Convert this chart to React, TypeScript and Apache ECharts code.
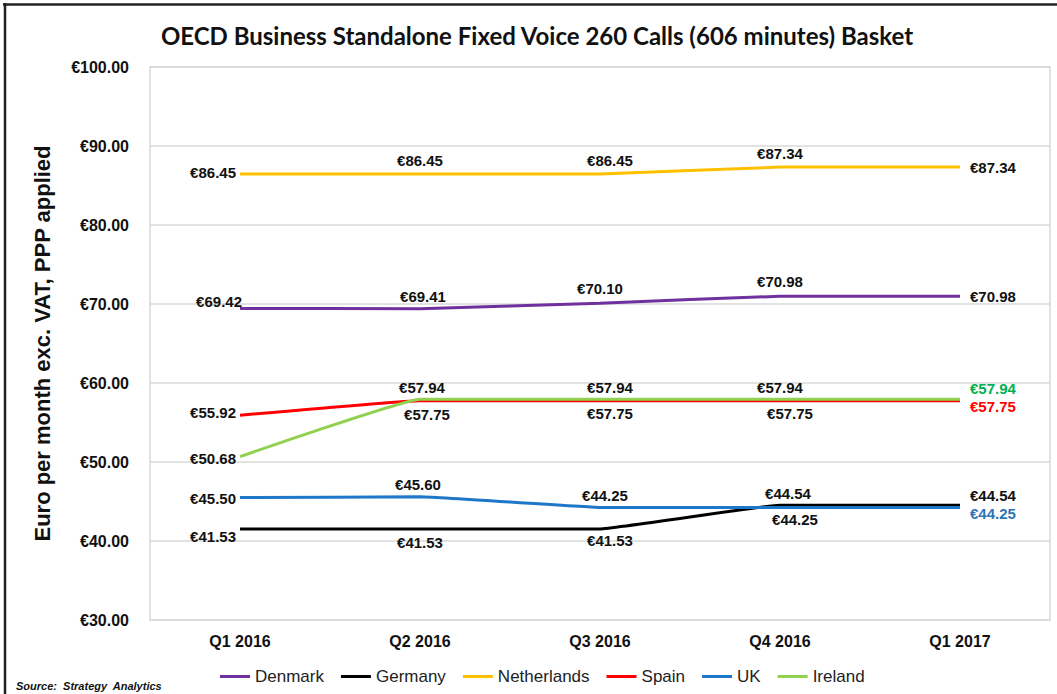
import React, { useEffect, useRef } from "react";
import * as echarts from "echarts";

const categories = ["Q1 2016", "Q2 2016", "Q3 2016", "Q4 2016", "Q1 2017"];
const seriesNames = ["Denmark", "Germany", "Netherlands", "Spain", "UK", "Ireland"];
const denmark = [69.42, 69.41, 70.1, 70.98, 70.98];
const germany = [41.53, 41.53, 41.53, 44.54, 44.54];
const netherlands = [86.45, 86.45, 86.45, 87.34, 87.34];
const spain = [55.92, 57.75, 57.75, 57.75, 57.75];
const uk = [45.5, 45.6, 44.25, 44.25, 44.25];
const ireland = [50.68, 57.94, 57.94, 57.94, 57.94];
const yTicks = { min: 30, max: 100, interval: 10 };

const colors = ["#7030A0", "#000000", "#FFC000", "#FF0000", "#1F77C9", "#92D050"];
const lastLabelColors = ["#111111", "#111111", "#111111", "#FF0000", "#2E75B6", "#00B050"];

// label placement per series per point: [position, offsetX, offsetY]
type LP = [string, number, number];
const labelPlacement: LP[][] = [
  [["left", 6, -7], ["top", 3, -1], ["top", 0, -3], ["top", 0, -3], ["right", 6, 0]],
  [["left", 0, 8], ["bottom", 0, 2], ["bottom", 10, 0], ["top", 8, 0], ["right", 6, -10]],
  [["left", 0, -2], ["top", 0, -2], ["top", 10, -2], ["top", 0, -2], ["right", 6, 0]],
  [["left", 0, -3], ["bottom", 7, 2], ["bottom", 10, 1], ["bottom", 10, 1], ["right", 6, 6]],
  [["left", 0, 1], ["top", -2, -1], ["top", 5, 0], ["bottom", 15, 1], ["right", 6, 6]],
  [["left", 0, 2], ["top", 2, 0], ["top", 10, 0], ["top", 0, 0], ["right", 6, -11]],
];

const allValues = [denmark, germany, netherlands, spain, uk, ireland];

export default function App() {
  const ref = useRef<HTMLDivElement>(null);
  useEffect(() => {
    if (!ref.current) return;
    const chart = echarts.init(ref.current, null, { renderer: "svg" });
    const series = seriesNames.map((name, si) => ({
      name,
      type: "line",
      smooth: 0.08,
      symbol: "circle",
      symbolSize: 0,
      showSymbol: true,
      lineStyle: { color: colors[si], width: 3 },
      itemStyle: { color: colors[si] },
      data: allValues[si].map((v, pi) => {
        const [pos, ox, oy] = labelPlacement[si][pi];
        return {
          value: v,
          label: {
            show: true,
            position: pos,
            distance: 4,
            offset: [ox, oy],
            formatter: (p: any) => "€" + Number(p.value).toFixed(2),
            color: pi === categories.length - 1 ? lastLabelColors[si] : "#111111",
            fontFamily: "Liberation Sans, Arial, sans-serif",
            fontWeight: "bold",
            fontSize: 15,
          },
        };
      }),
    }));
    chart.setOption({
      animation: false,
      backgroundColor: "#ffffff",
      color: colors,
      grid: { left: 150, right: 7, top: 67, bottom: 74, show: true, borderColor: "#d9d9d9", borderWidth: 1.5 },
      graphic: [
        {
          type: "text",
          x: 537,
          y: 35,
          style: {
            text: "OECD Business Standalone Fixed Voice 260 Calls (606 minutes) Basket",
            textAlign: "center",
            textVerticalAlign: "middle",
            fontFamily: "Lato, sans-serif",
            fontWeight: "bold",
            fontSize: 24,
            fill: "#111111",
          },
        },
        {
          type: "text",
          x: 16,
          y: 686,
          style: {
            text: "Source:  Strategy  Analytics",
            textVerticalAlign: "middle",
            fontFamily: "Liberation Sans, Arial, sans-serif",
            fontWeight: "bold",
            fontStyle: "italic",
            fontSize: 11,
            fill: "#111111",
          },
        },
        { type: "line", shape: { x1: 3, y1: 4.5, x2: 1057, y2: 4.5 }, style: { stroke: "#222222", lineWidth: 2.5 } },
        { type: "line", shape: { x1: 5, y1: 3, x2: 5, y2: 694 }, style: { stroke: "#222222", lineWidth: 2.5 } },
      ],
      legend: {
        data: seriesNames,
        left: 215,
        top: 663,
        icon: "rect",
        itemWidth: 30,
        itemHeight: 3,
        itemGap: 17,
        textStyle: { fontFamily: "Liberation Sans, Arial, sans-serif", fontSize: 17, color: "#222222" },
      },
      xAxis: {
        type: "category",
        data: categories,
        boundaryGap: true,
        axisLine: { show: false },
        axisTick: { show: false },
        axisLabel: {
          margin: 13,
          fontFamily: "Liberation Sans, Arial, sans-serif",
          fontWeight: "bold",
          fontSize: 16,
          color: "#111111",
        },
      },
      yAxis: {
        type: "value",
        min: yTicks.min,
        max: yTicks.max,
        interval: yTicks.interval,
        name: "Euro per month exc. VAT, PPP applied",
        nameLocation: "middle",
        nameGap: 97,
        nameTextStyle: {
          fontFamily: "Liberation Sans, Arial, sans-serif",
          fontWeight: "bold",
          fontSize: 22,
          color: "#111111",
        },
        axisLine: { show: false },
        axisTick: { show: false },
        splitLine: { lineStyle: { color: "#d9d9d9", width: 1.5 } },
        axisLabel: {
          margin: 21,
          formatter: (v: number) => "€" + v.toFixed(2),
          fontFamily: "Liberation Sans, Arial, sans-serif",
          fontWeight: "bold",
          fontSize: 16,
          color: "#111111",
        },
      },
      series,
    });
    return () => chart.dispose();
  }, []);
  return (
    <div
      ref={ref}
      style={{ position: "fixed", left: 0, top: 0, width: 1057, height: 694, background: "#fff" }}
    />
  );
}
